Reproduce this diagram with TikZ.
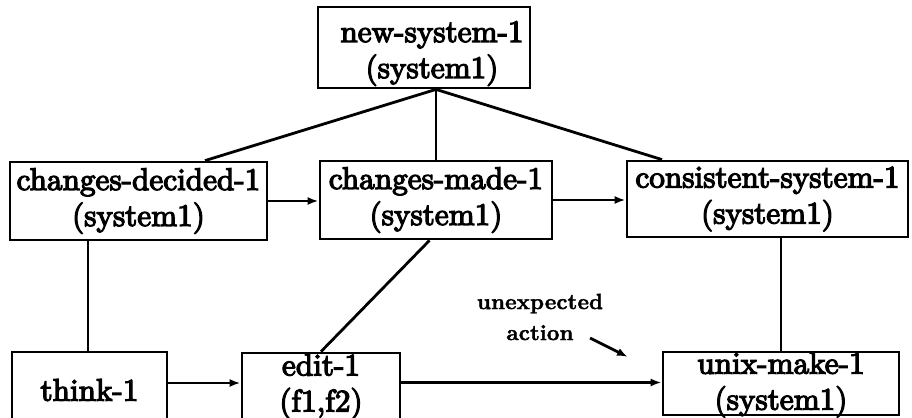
\documentclass[tikz,border=0pt]{standalone}
\usepackage{fontspec}
\usetikzlibrary{arrows.meta}
\newfontfamily\boxfont{lmroman10-regular.otf}[FakeBold=4]
\newfontfamily\notefont{lmroman10-bold.otf}[FakeBold=1.5]
\tikzset{
  frame/.style={draw, line width=1.4pt, inner sep=0pt},
  boxtext/.style={inner sep=0pt, align=center, font=\boxfont\fontsize{15.6}{18}\selectfont},
  link/.style={line width=1.4pt},
  flow/.style={link, -{Latex[length=5.5pt,width=4pt]}},
  note/.style={inner sep=0pt, align=center, font=\notefont\fontsize{11}{15.5}\selectfont},
}
\begin{document}
\begin{tikzpicture}[x=0.5pt,y=-0.5pt]
\useasboundingbox (0,0) rectangle (912,418);

% frames
\node[frame, minimum width=106pt,   minimum height=40.5pt] (ns)    at (424,47.5)  {};
\node[frame, minimum width=128.5pt, minimum height=39pt]   (cd)    at (138.5,201) {};
\node[frame, minimum width=116pt,   minimum height=39pt]   (cm)    at (436,200)   {};
\node[frame, minimum width=140.5pt, minimum height=38pt]   (cs)    at (767.5,199) {};
\node[frame, minimum width=77.5pt,  minimum height=34pt]   (think) at (89.5,386)  {};
\node[frame, minimum width=79pt,    minimum height=33.5pt] (edit)  at (321,386.5) {};
\node[frame, minimum width=118pt,   minimum height=31.5pt] (um)    at (781,383.5) {};

% texts
\node[boxtext] (ns-t)    at ([xshift=4pt,yshift=-3pt]ns.center) {new-system-1\\(system1)};
\node[boxtext] (cd-t)    at (cd.center)    {changes-decided-1\\(system1)};
\node[boxtext] (cm-t)    at (cm.center)    {changes-made-1\\(system1)};
\node[boxtext] (cs-t)    at (cs.center)    {consistent-system-1\\(system1)};
\node[boxtext] (think-t) at ([yshift=-2pt]think.center) {think-1};
\node[boxtext] (edit-t)  at (edit.center)  {edit-1\\(f1,f2)};
\node[boxtext] (um-t)    at ([yshift=-0.6pt]um.center) {unix-make-1\\(system1)};

% links from the top node
\coordinate (nsb) at ([xshift=6pt]ns.south);
\draw[link] (nsb) -- ([xshift=33.25pt]cd.north);
\draw[link] (nsb) -- (nsb |- cm.north);
\draw[link] (nsb) -- ([xshift=-52.75pt]cs.north);

% sequence of the middle row
\draw[flow] (cd.east) -- (cd.east -| cm.west);
\draw[flow] (cm.east) -- (cm.east -| cs.west);

% links down to the actions
\coordinate (cdb) at ([xshift=-25.25pt]cd.south);
\draw[link] (cdb) -- (cdb |- think.north);
\draw[link] ([xshift=-3.25pt]cm.south) -- (edit.north);
\draw[link] (um.north |- cs.south) -- (um.north);

% sequence of the bottom row
\coordinate (th-e) at ([yshift=1.5pt]think.east);
\draw[flow] (th-e) -- (th-e -| edit.west);
\coordinate (ed-e) at ([yshift=2pt]edit.east);
\draw[flow] (ed-e) -- (ed-e -| um.west);

% remark
\node[note] (ua) at (540,317) {unexpected\\action};
\coordinate (ua-s) at (590,338);
\coordinate (ua-e) at (628,357);
\draw[flow] (ua-s) -- (ua-e);
\end{tikzpicture}
\end{document}
